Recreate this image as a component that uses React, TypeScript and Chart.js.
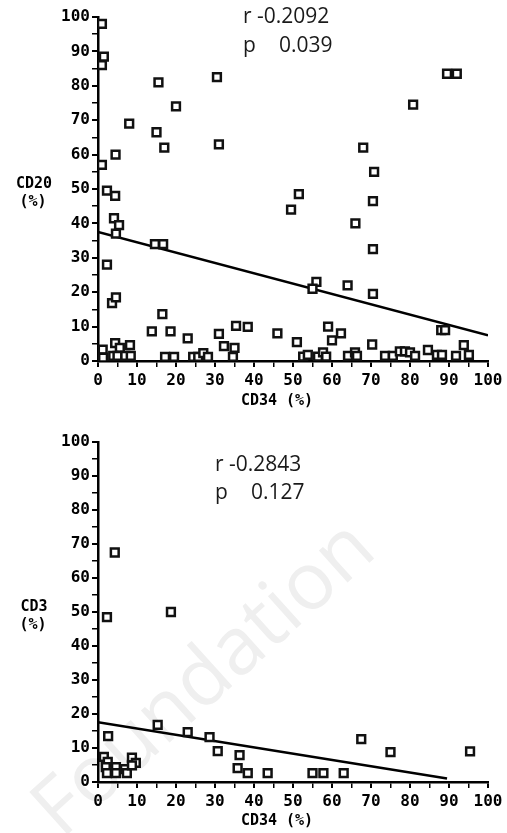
import React, { useEffect, useRef } from "react";
import { Chart, registerables } from "chart.js";
Chart.register(...registerables);

// ---------- data ----------
const xTickValues = [0, 10, 20, 30, 40, 50, 60, 70, 80, 90, 100];
const yTickValues = [0, 10, 20, 30, 40, 50, 60, 70, 80, 90, 100];

// Top panel: CD34 (%) vs CD20 (%)
const cd20X = [
  1, 1.5, 1, 1, 2.3, 4.4, 4.5, 8, 15.5, 15, 17, 20, 30.5, 31, 89.5, 92, 80.8, 68, 70.8, 51.5, 49.5, 70.5, 66, 70.5, 56, 55, 64, 70.5, 88, 89,
  4.1, 5.4, 4.6, 14.6, 16.7, 2.3, 3.6, 4.6, 16.5, 13.8, 18.6, 23, 31, 32.3, 35.4, 38.4, 35, 46, 51, 59, 60, 62.3, 70.3, 84.6, 93.8,
  1.2, 4.4, 5.6, 8.2, 1.3, 3.9, 5, 7, 8.4, 17.2, 19.5, 24.4, 25.7, 27, 28.2, 34.6,
  52.6, 53.8, 56.4, 57.7, 58.5, 64.1, 65.9, 66.4, 73.6, 75.6, 77.4, 78.7, 80, 81.3, 86.9, 88.2, 91.8, 95.1,
];
const cd20Y = [
  98, 88.5, 86, 57, 49.5, 48, 60, 69, 81, 66.5, 62, 74, 82.5, 63, 83.5, 83.5, 74.5, 62, 55, 48.5, 44, 46.5, 40, 32.5, 23, 21, 22, 19.5, 9, 9,
  41.5, 39.5, 37, 34, 34, 28, 16.8, 18.5, 13.6, 8.6, 8.6, 6.6, 7.9, 4.3, 10.2, 9.9, 3.8, 8, 5.5, 10, 6, 8, 4.8, 3.2, 4.6,
  3.3, 5.2, 3.8, 4.6, 1, 1.5, 1.5, 1.5, 1.5, 1.2, 1.2, 1.2, 1.2, 2.3, 1.2, 1.2,
  1.3, 1.8, 1.3, 2.5, 1.3, 1.5, 2.5, 1.5, 1.5, 1.5, 2.8, 2.8, 2.5, 1.5, 1.8, 1.8, 1.5, 1.8,
];
const cd20FitX = [0, 100];
const cd20FitY = [37.5, 7.5];

// Bottom panel: CD34 (%) vs CD3 (%)
const cd3X = [
  4.3, 2.3, 18.7, 2.6, 15.3, 23, 28.6, 30.7, 36.3, 35.8, 38.4, 43.5, 55, 57.8, 63, 67.5, 75, 95.4,
  1.5, 2.5, 2, 2.3, 4.6, 4.6, 6.9, 7.4, 8.7, 9.7, 8.7,
];
const cd3Y = [
  67.5, 48.5, 50, 13.5, 16.8, 14.7, 13.2, 9.1, 7.9, 4.1, 2.6, 2.6, 2.6, 2.6, 2.6, 12.6, 8.8, 9,
  7.4, 5.9, 4.4, 2.6, 4.4, 2.6, 3.8, 2.6, 7.2, 5.6, 4.9,
];
const cd3FitX = [0, 89.5];
const cd3FitY = [17.6, 1];

// ---------- styling ----------
const TICK_FONT = { family: "'DejaVu Sans Mono', monospace", size: 16, weight: "bold" as const };
const LABEL_FONT = "bold 15px 'DejaVu Sans Mono', monospace";
const ANNOT_FONT = "21px 'Open Sans', sans-serif";

type PanelProps = {
  top: number;
  height: number;
  padTop: number;
  xAxisHeight: number;
  xs: number[];
  ys: number[];
  fitX: number[];
  fitY: number[];
  yLabel: string[];
  yLabelY: number[];
  xLabelY: number;
  rText: string;
  pText: string;
  annX: number;
  annY: number[];
  watermark?: boolean;
};

function Panel(p: PanelProps) {
  const ref = useRef<HTMLCanvasElement | null>(null);
  useEffect(() => {
    if (!ref.current) return;
    const textPlugin = {
      id: "texts",
      beforeDraw(chart: any) {
        if (!p.watermark) return;
        const ctx = chart.ctx;
        ctx.save();
        ctx.translate(205, 680 - p.top);
        ctx.rotate(-42 * Math.PI / 180);
        ctx.font = "80px 'Open Sans', sans-serif";
        ctx.fillStyle = "#efefef";
        ctx.textAlign = "center";
        ctx.textBaseline = "middle";
        ctx.fillText("Foundation", 0, 0);
        ctx.restore();
      },
      afterDraw(chart: any) {
        const ctx = chart.ctx;
        ctx.save();
        ctx.fillStyle = "#000";
        ctx.font = LABEL_FONT;
        ctx.textAlign = "center";
        ctx.textBaseline = "middle";
        ctx.fillText(p.yLabel[0], 34, p.yLabelY[0]);
        ctx.fillText(p.yLabel[1], 33, p.yLabelY[1]);
        ctx.fillText("CD34 (%)", 277, p.xLabelY);
        ctx.font = ANNOT_FONT;
        ctx.fillStyle = "#1a1a1a";
        ctx.textAlign = "left";
        ctx.textBaseline = "alphabetic";
        ctx.fillText(p.rText, p.annX, p.annY[0]);
        ctx.fillText("p", p.annX, p.annY[1]);
        ctx.fillText(p.pText, p.annX + 36, p.annY[1]);
        ctx.restore();
      },
    };
    const majorWidth = (c: any) => (c.tick && c.tick.value % 10 === 0 ? 2 : 1.5);
    const chart = new Chart(ref.current, {
      type: "scatter",
      data: {
        datasets: [
          {
            label: "points",
            data: p.xs.map((x, i) => ({ x, y: p.ys[i] })),
            pointStyle: "rect",
            pointRadius: 5.5,
            pointBorderWidth: 2.5,
            pointBorderColor: "#111",
            pointBackgroundColor: "#fff",
            showLine: false,
          },
          {
            label: "fit",
            data: p.fitX.map((x, i) => ({ x, y: p.fitY[i] })),
            showLine: true,
            borderColor: "#000",
            borderWidth: 2.5,
            pointRadius: 0,
            fill: false,
          },
        ],
      },
      options: {
        animation: false,
        responsive: false,
        maintainAspectRatio: false,
        layout: { padding: { left: 0, right: 19, top: p.padTop, bottom: 0 } },
        plugins: { legend: { display: false }, tooltip: { enabled: false }, title: { display: false } },
        scales: {
          x: {
            type: "linear",
            min: 0,
            max: 100,
            afterFit: (s: any) => { s.height = p.xAxisHeight; },
            afterBuildTicks: (s: any) => {
              const t = [];
              for (let v = 0; v <= 100; v += 5) t.push({ value: v });
              s.ticks = t;
            },
            ticks: {
              autoSkip: false,
              maxRotation: 0,
              padding: 4,
              color: "#000",
              font: TICK_FONT,
              callback: (v: any) => (xTickValues.includes(Number(v)) ? String(v) : ""),
            },
            grid: { display: true, drawOnChartArea: false, drawTicks: true, tickLength: 6, color: "#000", lineWidth: majorWidth },
            border: { display: true, color: "#000", width: 2.5 },
          },
          y: {
            type: "linear",
            min: 0,
            max: 100,
            afterFit: (s: any) => { s.width = 98; },
            afterBuildTicks: (s: any) => {
              const t = [];
              for (let v = 0; v <= 100; v += 5) t.push({ value: v });
              s.ticks = t;
            },
            ticks: {
              autoSkip: false,
              padding: 2,
              color: "#000",
              font: TICK_FONT,
              callback: (v: any) => (yTickValues.includes(Number(v)) ? String(v) : ""),
            },
            grid: { display: true, drawOnChartArea: false, drawTicks: true, tickLength: 6, color: "#000", lineWidth: majorWidth },
            border: { display: true, color: "#000", width: 2.5 },
          },
        },
      },
      plugins: [textPlugin],
    } as any);
    return () => chart.destroy();
  }, []);
  return (
    <canvas
      ref={ref}
      width={507}
      height={p.height}
      style={{ position: "absolute", left: 0, top: p.top, width: 507, height: p.height, display: "block" }}
    />
  );
}

export default function App() {
  return (
    <div style={{ position: "absolute", left: 0, top: 0, width: 507, height: 833, background: "#fff", overflow: "hidden" }}>
      <Panel
        top={0}
        height={420}
        padTop={17}
        xAxisHeight={59}
        xs={cd20X}
        ys={cd20Y}
        fitX={cd20FitX}
        fitY={cd20FitY}
        yLabel={["CD20", "(%)"]}
        yLabelY={[184, 202]}
        xLabelY={401}
        rText="r -0.2092"
        pText="0.039"
        annX={243}
        annY={[23, 52]}
      />
      <Panel
        top={420}
        height={413}
        padTop={22}
        xAxisHeight={51}
        xs={cd3X}
        ys={cd3Y}
        fitX={cd3FitX}
        fitY={cd3FitY}
        yLabel={["CD3", "(%)"]}
        yLabelY={[607 - 420, 625 - 420]}
        xLabelY={821 - 420}
        rText="r -0.2843"
        pText="0.127"
        annX={215}
        annY={[471 - 420, 499 - 420]}
        watermark
      />
    </div>
  );
}
